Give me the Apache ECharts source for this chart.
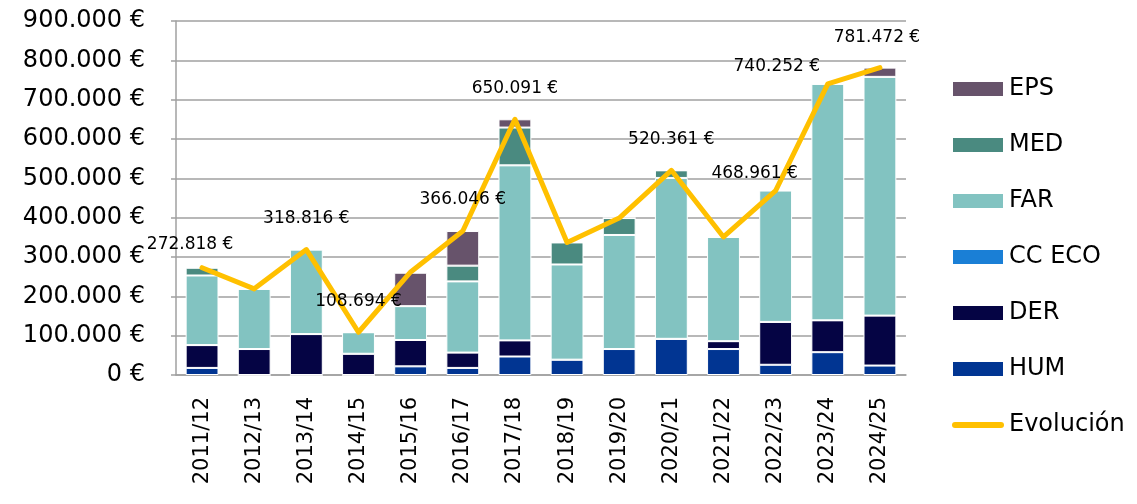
<!DOCTYPE html>
<html>
<head>
<meta charset="utf-8">
<script src="https://cdn.jsdelivr.net/npm/echarts@6/dist/echarts.min.js"></script>
<style>
  html, body { margin: 0; padding: 0; background: #fff; }
  #chart { width: 1137px; height: 504px; }
</style>
</head>
<body>
<div id="chart"></div>
<script>
  // cursos academicos
  var cursos = ['2011/12', '2012/13', '2013/14', '2014/15', '2015/16', '2016/17', '2017/18',
                '2018/19', '2019/20', '2020/21', '2021/22', '2022/23', '2023/24', '2024/25'];

  // importes por partida (euros)
  var hum   = [18000, 0, 0, 0, 22000, 18000, 47000, 39000, 66000, 92000, 66000, 26000, 58000, 24000];
  var der   = [58000, 66000, 104000, 54000, 67000, 39000, 41000, 0, 0, 0, 20000, 109000, 81000, 127000];
  var ccEco = [0, 0, 0, 0, 0, 0, 0, 0, 0, 0, 0, 0, 0, 0];
  var far   = [177000, 153000, 214816, 54694, 86000, 181000, 445000, 242000, 290000, 409000, 265000, 333961, 601252, 606972];
  var med   = [19818, 0, 0, 0, 0, 40000, 96091, 56000, 43000, 19361, 0, 0, 0, 0];
  var eps   = [0, 0, 0, 0, 85000, 88046, 21000, 0, 0, 0, 0, 0, 0, 23500];

  // total anual (linea Evolución)
  var evolucion = [272818, 219000, 318816, 108694, 262000, 366046, 650091, 337000, 399000, 520361, 351000, 468961, 740252, 781472];

  // cursos con etiqueta de importe
  var etiquetados = ['2011/12', '2013/14', '2014/15', '2016/17', '2017/18', '2020/21', '2022/23', '2023/24', '2024/25'];

  var FONT = '"DejaVu Sans", "Noto Sans", sans-serif';

  function euros(v) {
    var s = Math.round(v).toString().replace(/\B(?=(\d{3})+(?!\d))/g, '.');
    return s + ' €';
  }

  // desplazamiento de algunas etiquetas para que no pisen la linea
  var ajusteEtiqueta = {
    '2011/12': [-12, 8],
    '2022/23': [-21, 14],
    '2023/24': [-51, 14],
    '2024/25': [-3, 1]
  };

  var lineaData = evolucion.map(function (v, i) {
    var c = cursos[i];
    var show = etiquetados.indexOf(c) >= 0;
    return {
      value: v,
      label: {
        show: show,
        offset: ajusteEtiqueta[c] || [0, 0]
      }
    };
  });

  var barra = function (name, data, color) {
    return {
      name: name,
      type: 'bar',
      stack: 'total',
      barWidth: '63%',
      data: data,
      itemStyle: { color: color, borderColor: '#fff', borderWidth: 1 },
      emphasis: { disabled: true }
    };
  };

  var chart = echarts.init(document.getElementById('chart'));
  var option = {
    animation: false,
    textStyle: { fontFamily: FONT },
    grid: { left: 176, right: 231, top: 21, bottom: 129 },
    legend: {
      orient: 'vertical',
      left: 946,
      top: 72,
      itemWidth: 52,
      itemHeight: 16,
      itemGap: 32,
      textStyle: { fontFamily: FONT, fontSize: 24, color: '#000' },
      data: [
        { name: 'EPS', icon: 'rect' },
        { name: 'MED', icon: 'rect' },
        { name: 'FAR', icon: 'rect' },
        { name: 'CC ECO', icon: 'rect' },
        { name: 'DER', icon: 'rect' },
        { name: 'HUM', icon: 'rect' },
        { name: 'Evolución', icon: 'path://M3,0 L49,0 A3,3 0 0 1 49,6 L3,6 A3,3 0 0 1 3,0 Z' }
      ]
    },
    xAxis: {
      type: 'category',
      data: cursos,
      axisLine: { lineStyle: { color: '#a0a0a0', width: 1.5 } },
      axisTick: { show: false },
      axisLabel: {
        rotate: 90,
        margin: 22,
        interval: 0,
        fontFamily: FONT,
        fontSize: 21,
        color: '#000'
      }
    },
    yAxis: {
      type: 'value',
      min: 0,
      max: 900000,
      interval: 100000,
      axisLine: { show: true, lineStyle: { color: '#a0a0a0', width: 1.5 } },
      axisTick: { show: true, length: 5, lineStyle: { color: '#a0a0a0', width: 1.5 } },
      splitLine: { lineStyle: { color: '#a0a0a0', width: 1.5 } },
      axisLabel: {
        margin: 31,
        fontFamily: FONT,
        fontSize: 24,
        color: '#000',
        formatter: euros
      }
    },
    series: [
      barra('HUM', hum, '#013592'),
      barra('DER', der, '#050444'),
      barra('CC ECO', ccEco, '#1a7fd6'),
      barra('FAR', far, '#82c3c1'),
      barra('MED', med, '#4a8a80'),
      barra('EPS', eps, '#67536b'),
      {
        name: 'Evolución',
        type: 'line',
        data: lineaData,
        symbol: 'circle',
        symbolSize: 1,
        itemStyle: { color: '#ffc000' },
        lineStyle: { color: '#ffc000', width: 5, join: 'round', cap: 'round' },
        label: {
          position: 'top',
          distance: 22,
          fontFamily: FONT,
          fontSize: 17,
          color: '#000',
          formatter: function (p) { return euros(p.value); }
        },
        z: 5
      }
    ]
  };
  chart.setOption(option);
</script>
</body>
</html>
